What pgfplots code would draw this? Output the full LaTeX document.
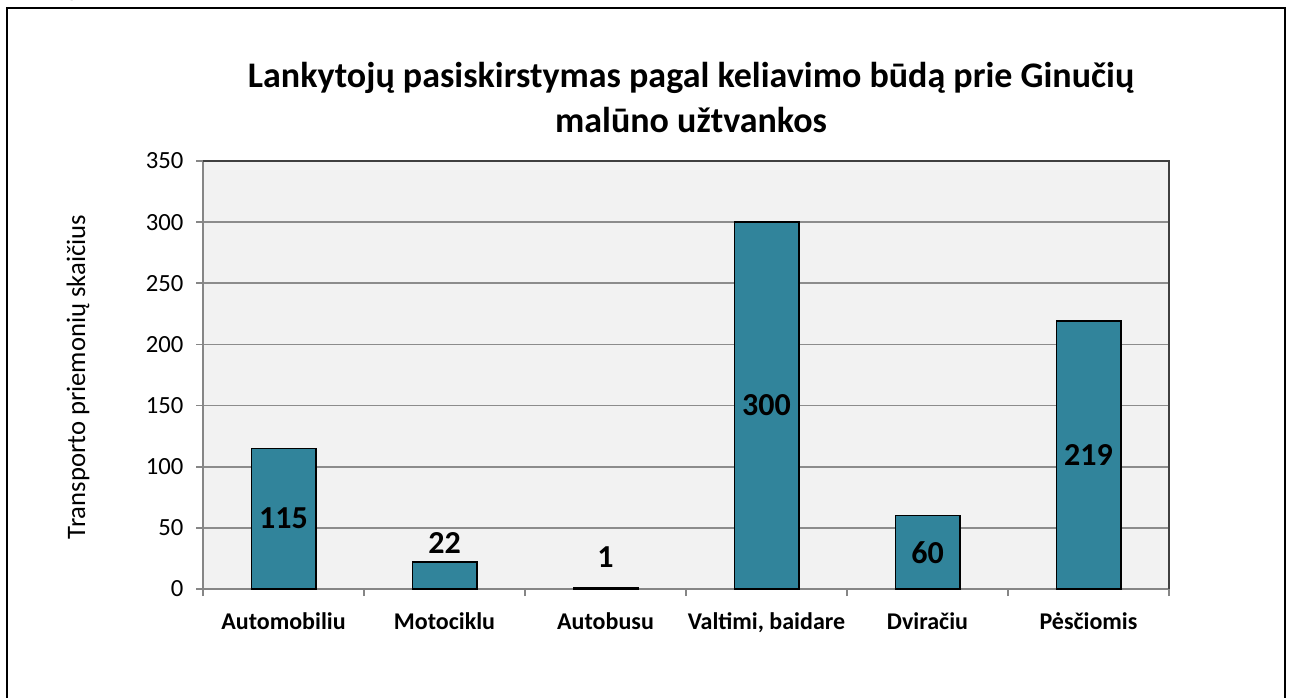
\documentclass[border=0pt]{standalone}
\usepackage{pgfplots}
\pgfplotsset{compat=1.18}
\usepackage{fontspec}
\setmainfont{Carlito}

\definecolor{barfill}{HTML}{31849B}
\definecolor{plotbg}{HTML}{F2F2F2}
\definecolor{gridgray}{HTML}{8C8C8C}
\definecolor{axisgray}{HTML}{868686}
\definecolor{framedark}{HTML}{404040}

\begin{document}
\begin{tikzpicture}[x=0.75pt,y=0.75pt]
\useasboundingbox (0,0) rectangle (1295,697);

% outer chart frame (bottom edge lies below the page)
\draw[line width=1.5pt] (7,689) rectangle (1285,-30);
% cut-off text above the frame
\node[anchor=base, inner sep=0pt, font=\fontsize{18}{22}\selectfont] at (72,700) {g};

% title
\node[anchor=base, font=\bfseries\fontsize{27}{33}\selectfont] at (691,609) {Lankytojų pasiskirstymas pagal keliavimo būdą prie Ginučių};
\node[anchor=base, font=\bfseries\fontsize{27}{33}\selectfont] at (691,564) {malūno užtvankos};

% y label
\node[rotate=90, font=\fontsize{20}{24}\selectfont] at (78,320) {Transporto priemonių skaičius};

\begin{axis}[
    at={(152.25pt,81pt)},
    anchor=south west,
    scale only axis,
    width=724.5pt,
    height=321pt,
    xmin=-0.5, xmax=5.5,
    ymin=0, ymax=350,
    ytick={0,50,...,350},
    xtick={0,...,5},
    xticklabels={Automobiliu,Motociklu,Autobusu,{Valtimi, baidare},Dviračiu,Pėsčiomis},
    minor xtick={-0.5,0.5,...,5.5},
    major x tick style={draw=none},
    xtick pos=bottom,
    ytick pos=left,
    tick align=outside,
    major tick length=5.25pt,
    minor tick length=5.25pt,
    tick style={color=axisgray, line width=1.2pt},
    ymajorgrids,
    grid style={color=gridgray, line width=1.2pt},
    axis line style={draw=axisgray, line width=1.2pt},
    axis background/.style={fill=plotbg},
    /pgf/number format/assume math mode=true,
    yticklabel style={font=\fontsize{18.5}{22}\selectfont, xshift=-6pt},
    xticklabel style={font=\bfseries\fontsize{18}{22}\selectfont, anchor=north, yshift=-9pt},
    ybar,
    bar width=0.4,
    clip=false,
]
\addplot[fill=barfill, draw=black, line width=1.2pt]
coordinates {(0,115) (1,22) (2,1) (3,300) (4,60) (5,219)};

% plot area border top and right
\draw[color=framedark, line width=1.2pt]
(rel axis cs:0,1) -- (rel axis cs:1,1) -- (rel axis cs:1,0);

% data labels
\node[font=\bfseries\fontsize{24}{29}\selectfont] at (axis cs:0,57.5) {115};
\node[font=\bfseries\fontsize{24}{29}\selectfont] at (axis cs:1,37.6) {22};
\node[font=\bfseries\fontsize{24}{29}\selectfont] at (axis cs:2,26) {1};
\node[font=\bfseries\fontsize{24}{29}\selectfont] at (axis cs:3,150) {300};
\node[font=\bfseries\fontsize{24}{29}\selectfont] at (axis cs:4,30) {60};
\node[font=\bfseries\fontsize{24}{29}\selectfont] at (axis cs:5,109.5) {219};
\end{axis}
\end{tikzpicture}
\end{document}
